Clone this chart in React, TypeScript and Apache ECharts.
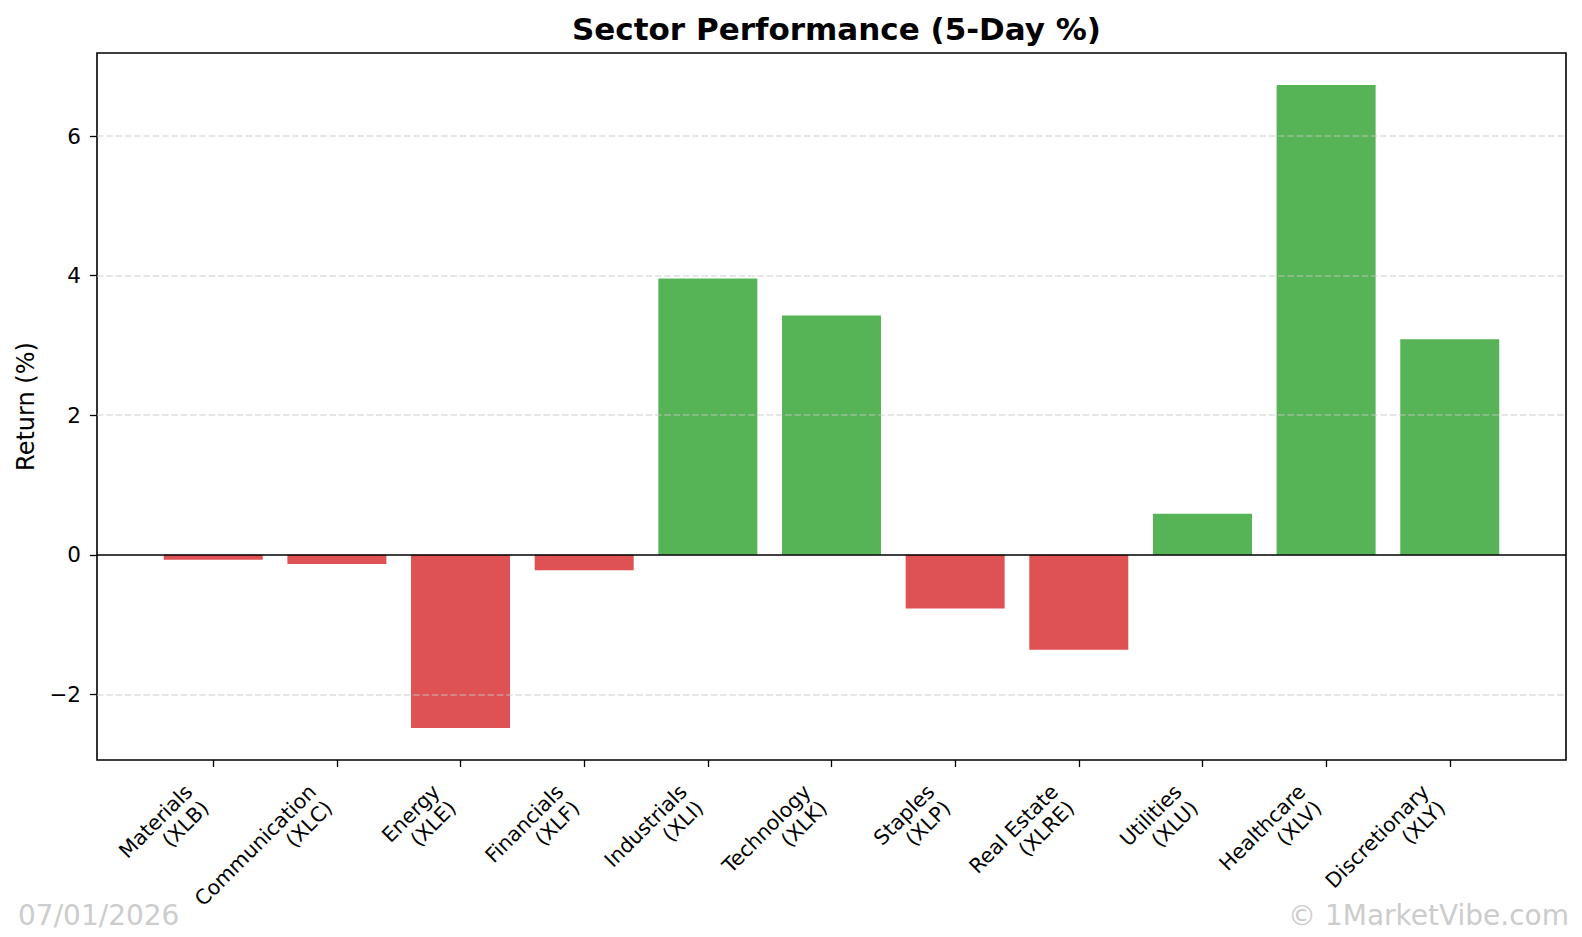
import React, { useEffect, useRef } from "react";
import * as echarts from "echarts";

const sectors = [
  "Materials\n(XLB)",
  "Communication\n(XLC)",
  "Energy\n(XLE)",
  "Financials\n(XLF)",
  "Industrials\n(XLI)",
  "Technology\n(XLK)",
  "Staples\n(XLP)",
  "Real Estate\n(XLRE)",
  "Utilities\n(XLU)",
  "Healthcare\n(XLV)",
  "Discretionary\n(XLY)",
];
const returns5d = [-0.07, -0.13, -2.48, -0.22, 3.96, 3.43, -0.77, -1.36, 0.59, 6.73, 3.09];
const yTicks = [-2, 0, 2, 4, 6];
const gridValues = [-2, 2, 4, 6];
const yMin = -2.94;
const yMax = 7.19;
const xMin = -0.94;
const xMax = 10.94;

const FONT = "DejaVu Sans";
const GREEN = "#56b356";
const RED = "#de5253";

export default function App() {
  const ref = useRef<HTMLDivElement>(null);
  useEffect(() => {
    if (!ref.current) return;
    const chart = echarts.init(ref.current, undefined, { renderer: "svg" });
    const idx = sectors.map((_, i) => i);
    chart.setOption({
      animation: false,
      backgroundColor: "#ffffff",
      title: {
        text: "Sector Performance (5-Day %)",
        left: 831.5,
        textAlign: "center",
        top: 8,
        textStyle: { fontFamily: FONT, fontWeight: "bold", fontSize: 31, color: "#000" },
      },
      grid: {
        left: 97,
        right: 16,
        top: 53,
        bottom: 177,
        show: true,
        borderColor: "#000",
        borderWidth: 1.6,
        backgroundColor: "transparent",
      },
      xAxis: {
        type: "value",
        min: xMin,
        max: xMax,
        axisLine: { show: false, onZero: false },
        splitLine: { show: false },
        axisTick: { show: true, customValues: idx, length: 7, lineStyle: { color: "#000", width: 1.3 } },
        axisLabel: {
          customValues: idx,
          formatter: (v: number) => sectors[Math.round(v)] ?? "",
          rotate: 45,
          margin: 20,
          padding: [0, 23, 0, 0],
          fontFamily: FONT,
          fontSize: 20.5,
          color: "#000",
          lineHeight: 23,
        },
      },
      yAxis: {
        type: "value",
        min: yMin,
        max: yMax,
        name: "Return (%)",
        nameLocation: "middle",
        nameGap: 59,
        nameTextStyle: { fontFamily: FONT, fontSize: 24, color: "#000" },
        axisLine: { show: false, onZero: false },
        splitLine: { show: false },
        axisTick: { show: true, customValues: yTicks, length: 7, lineStyle: { color: "#000", width: 1.3 } },
        axisLabel: {
          customValues: yTicks,
          formatter: (v: number) => (v < 0 ? "\u2212" + Math.abs(v) : String(v)),
          margin: 16,
          fontFamily: FONT,
          fontSize: 21.5,
          color: "#000",
        },
      },
      series: [
        {
          type: "bar",
          barWidth: 99,
          data: returns5d.map((v, i) => ({
            value: [i, v],
            itemStyle: { color: v >= 0 ? GREEN : RED },
          })),
          markLine: {
            silent: true,
            symbol: "none",
            label: { show: false },
            data: [
              ...gridValues.map((g) => ({
                yAxis: g,
                lineStyle: { color: "rgba(200,200,200,0.6)", type: [6.5, 2.8], width: 1.5 },
              })),
              { yAxis: 0, lineStyle: { color: "#000", type: "solid", width: 1.6 } },
            ],
          },
        },
      ],
      graphic: [
        {
          type: "text",
          left: 18,
          top: 901,
          style: {
            text: "07/01/2026",
            font: `28px "${FONT}"`,
            fill: "#cccccc",
            textShadowColor: "#808080",
            textShadowOffsetX: 1,
            textShadowOffsetY: 1,
            textShadowBlur: 0,
          },
        },
        {
          type: "text",
          right: 13,
          top: 901,
          style: {
            text: "© 1MarketVibe.com",
            font: `28px "${FONT}"`,
            fill: "#cccccc",
            textShadowColor: "#808080",
            textShadowOffsetX: 1,
            textShadowOffsetY: 1,
            textShadowBlur: 0,
          },
        },
      ],
    });
    return () => chart.dispose();
  }, []);
  return (
    <div
      ref={ref}
      style={{ position: "absolute", left: 0, top: 0, width: 1582, height: 937 }}
    />
  );
}
